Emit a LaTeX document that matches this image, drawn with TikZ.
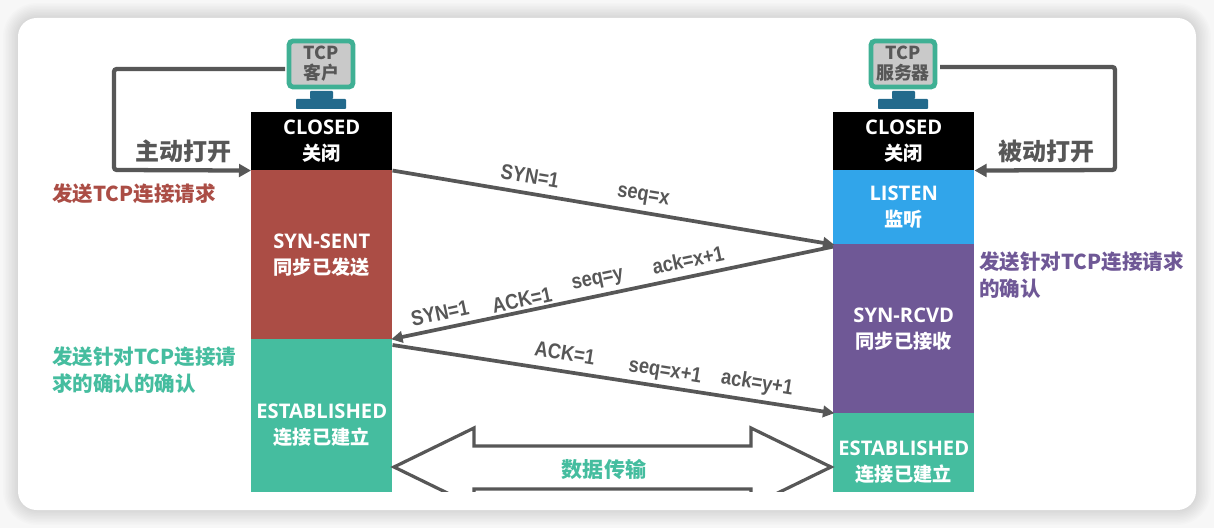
\documentclass[tikz,border=0pt]{standalone}
\usepackage{fontspec}
\usepackage{graphicx}
\usetikzlibrary{arrows.meta}
\newfontfamily\cjk{Noto Sans CJK SC}
\newfontfamily\latn{Open Sans}
\newfontfamily\arial{Liberation Sans}
\definecolor{cred}{HTML}{AB4D45}
\definecolor{cteal}{HTML}{45BD9F}
\definecolor{cpurple}{HTML}{6F5896}
\definecolor{cblue}{HTML}{31A5EA}
\definecolor{cgray}{HTML}{575757}
\definecolor{cmon}{HTML}{3FB094}
\definecolor{cscreen}{HTML}{C9C9C9}
\definecolor{cstand}{HTML}{236A8C}
\newcommand{\lat}[1]{\raisebox{-1pt}{\latn\fontsize{15.1}{19.5}\selectfont\bfseries #1}}
\newcommand{\han}[1]{\raisebox{-1pt}{\cjk\fontsize{14.4}{19.5}\selectfont\bfseries #1}}
\newcommand{\tall}[1]{\scalebox{0.86}[1]{\arial\fontsize{16}{18}\selectfont\bfseries #1}}
\tikzset{
  x=0.75pt,y=-0.75pt,
  bar/.style={anchor=north west,minimum width=105.75pt,inner sep=0pt,text=white,align=center,
    font=\fontsize{14}{19.5}\selectfont},
  monitor/.style={draw=cmon,fill=cscreen,line width=3.6pt,rounded corners=3pt,minimum width=48pt,minimum height=34.5pt,
    inner sep=0pt,text=cgray,align=center,font=\cjk\fontsize{13.4}{15}\selectfont\bfseries},
  standpart/.style={fill=cstand,inner sep=0pt,rounded corners=0.6pt},
  loopline/.style={draw=cgray,line width=3.2pt,rounded corners=2pt,-{Triangle[length=9pt,width=9.5pt]}},
  msg/.style={draw=cgray,line width=2.8pt,-{Triangle[length=8.5pt,width=8.5pt]},shorten >=-1pt},
  msgtext/.style={text=cgray,inner sep=0pt},
  openlabel/.style={text=cgray,inner sep=0pt,font=\cjk\fontsize{18}{20}\selectfont\bfseries},
  note/.style={inner sep=0pt,anchor=west,align=left,font=\cjk\fontsize{15.4}{20.3}\selectfont\bfseries},
}
\begin{document}
\begin{tikzpicture}
\useasboundingbox (0,0) rectangle (1214,528);
\fill[white!97!black] (0,0) rectangle (1214,528);
\foreach \w in {30,27,24,21,18,15,12,9,6,3}{
  \draw[black,opacity=0.012,line width=\w*0.75pt,rounded corners=14pt] (18,18) rectangle (1196,510);
}
\fill[white,rounded corners=14pt] (18,18) rectangle (1196,510);

\begin{scope}
\clip (0,0) rectangle (1214,491);
\node[bar,fill=black,minimum height=43.5pt] (closedL) at (251,112) {\lat{CLOSED}\\\han{关闭}};
\node[bar,fill=cred,minimum height=126.75pt] (sent) at (251,170) {\lat{SYN-SENT}\\\han{同步已发送}};
\node[bar,fill=cteal,minimum height=129pt] (estL) at (251,339) {\lat{ESTABLISHED}\\\han{连接已建立}};
\node[bar,fill=black,minimum height=43.5pt] (closedR) at (833,112) {\lat{CLOSED}\\\han{关闭}};
\node[bar,fill=cblue,minimum height=55.5pt] (listen) at (833,170) {\lat{LISTEN}\\\han{监听}};
\node[bar,fill=cpurple,minimum height=126.75pt] (rcvd) at (833,244) {\lat{SYN-RCVD}\\\han{同步已接收}};
\node[bar,fill=cteal,minimum height=73.5pt] (estR) at (833,413) {\lat{ESTABLISHED}\\\han{连接已建立}};
\draw[cgray,line width=2.4pt,line join=miter,fill=white]
  (394,467) -- (474,428) -- (474,446) -- (751,446) -- (751,428) -- (831,467)
  -- (751,506) -- (751,489) -- (474,489) -- (474,506) -- cycle;
\node[inner sep=0pt,text=cteal,font=\cjk\fontsize{15.8}{18}\selectfont\bfseries] (data) at (604,469) {数据传输};
\end{scope}

\node[monitor] (monL) at (321,64) {TCP\\客户};
\node[monitor] (monR) at (903,64) {TCP\\服务器};
\node[standpart,minimum width=17.25pt,minimum height=6pt] (neckL) at (321.5,95) {};
\node[standpart,minimum width=37.5pt,minimum height=7.5pt] (baseL) at (321,104) {};
\node[standpart,minimum width=17.25pt,minimum height=6pt] (neckR) at (903.5,95) {};
\node[standpart,minimum width=37.5pt,minimum height=7.5pt] (baseR) at (903,104) {};

\coordinate (ls) at (285,69);
\coordinate (lc1) at (114,69);
\coordinate (lc2) at (114,170);
\coordinate (rs) at (940,67);
\coordinate (rc1) at (1115,67);
\coordinate (rc2) at (1115,170);
\draw[loopline] (ls) -- (lc1) -- (lc2) -- (closedL.south west);
\draw[loopline] (rs) -- (rc1) -- (rc2) -- (closedR.south east);

\draw[msg] (closedL.south east) -- (listen.south west);
\draw[msg] ([yshift=-2pt]rcvd.north west) -- (estL.north east);
\draw[msg] ([yshift=-4.5pt]estL.north east) -- (estR.north west);

\node[openlabel] (zd) at (183,151) {主动打开};
\node[openlabel] (bd) at (1046,151) {被动打开};

\node[note,text=cred] (n1) at (52,194) {发送TCP连接请求};
\node[note,text=cteal] (n2) at (52,370.5) {发送针对TCP连接请\\求的确认的确认};
\node[note,text=cpurple] (n3) at (979,275.5) {发送针对TCP连接请求\\的确认};

\node[msgtext,rotate=-9.5] (a1) at (530,176) {\tall{SYN=1}};
\node[msgtext,rotate=-9.5] (a2) at (643,197) {\tall{seq=x}};
\node[msgtext,rotate=12] (b1) at (440,313) {\tall{SYN=1}};
\node[msgtext,rotate=12] (b2) at (522,300) {\tall{ACK=1}};
\node[msgtext,rotate=12] (b3) at (598,281) {\tall{seq=y}};
\node[msgtext,rotate=12] (b4) at (688,260) {\tall{ack=x+1}};
\node[msgtext,rotate=-9.2] (c1) at (565,353) {\tall{ACK=1}};
\node[msgtext,rotate=-9.2] (c2) at (665,372) {\tall{seq=x+1}};
\node[msgtext,rotate=-9.2] (c3) at (757,384) {\tall{ack=y+1}};
\end{tikzpicture}
\end{document}
